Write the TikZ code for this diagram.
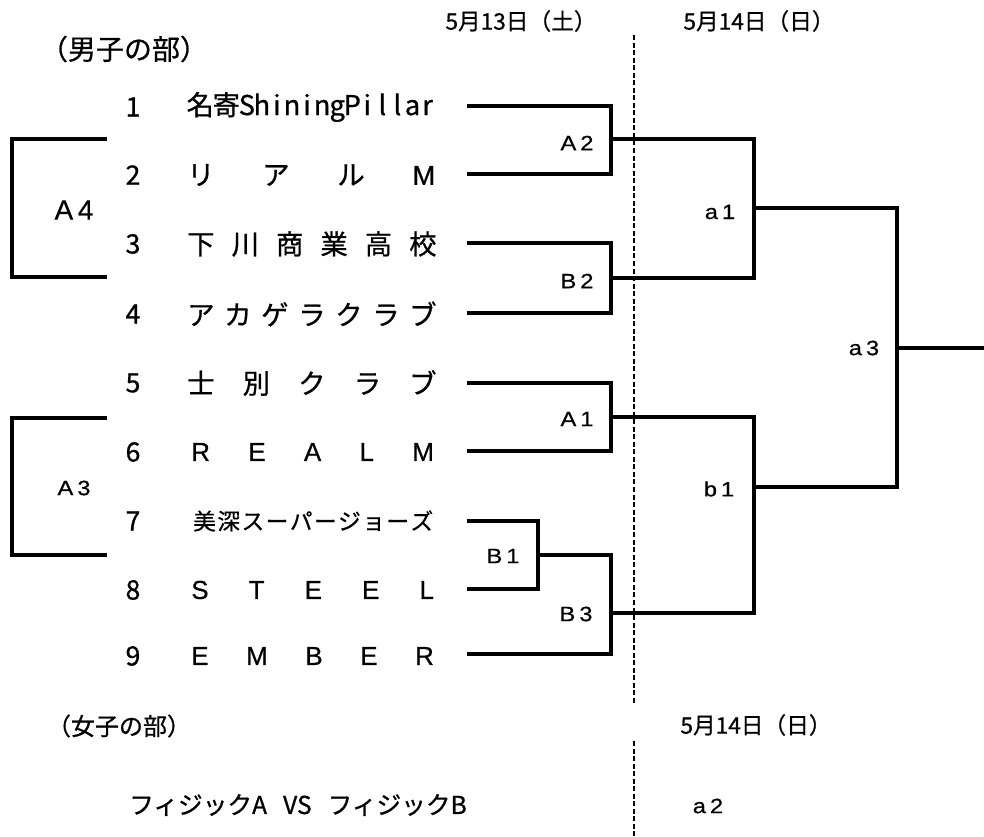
\documentclass[tikz,border=0pt]{standalone}
\usepackage{fontspec}
\usepackage{graphicx}
\newfontfamily\jp[FakeBold=0.7]{Noto Sans CJK JP}
\newfontfamily\lat[FakeBold=0.5]{Liberation Sans}
\newcommand\mc[1]{\makebox[11.3pt]{#1}}
\newcommand\kc[1]{\makebox[19.5pt]{#1}}
\newcommand\lab[1]{\scalebox{1.15}[1]{#1}}
\begin{document}
\begin{tikzpicture}[x=0.75pt,y={(0pt,-0.75pt)},
  ln/.style={line width=2.4pt, line join=miter},
  dsh/.style={line width=2pt, dash pattern=on 3.75pt off 1.9pt},
  head/.style={inner sep=0pt, font=\jp\fontsize{21}{23}\selectfont},
  datef/.style={inner sep=0pt, font=\jp\fontsize{17}{19}\selectfont},
  numf/.style={inner sep=0pt, font=\jp\fontsize{20}{22}\selectfont},
  team/.style={inner sep=0pt, anchor=west, font=\jp\fontsize{20.5}{22}\selectfont},
  lbl/.style={inner sep=0pt, font=\lat\fontsize{15.5}{17}\selectfont},
  biglbl/.style={inner sep=0pt, font=\lat\fontsize{21}{23}\selectfont}]
\fill[white] (0,0) rectangle (984,837);
\useasboundingbox (0,0) rectangle (984,837);

% headings and dates
\node[head] (men) at (124,49) {（男子の部）};
\node[datef] (d13) at (521,21) {5月13日（土）};
\node[datef] (d14) at (759,21) {5月14日（日）};

% numbers
\node[numf] (n1) at (133,107) {1};
\node[numf] (n2) at (133,175) {2};
\node[numf] (n3) at (133,244) {3};
\node[numf] (n4) at (133,314) {4};
\node[numf] (n5) at (133,383) {5};
\node[numf] (n6) at (133,452) {6};
\node[numf] (n7) at (133,521) {7};
\node[numf] (n8) at (133,590) {8};
\node[numf] (n9) at (133,656) {9};

% team names
\node[team] (tm1) at (187,107) {\kc{名}\kc{寄}\mc{S}\mc{h}\mc{i}\mc{n}\mc{i}\mc{n}\mc{g}\mc{P}\mc{i}\mc{l}\mc{l}\mc{a}\mc{r}};
\node[team] (tm2) at (187,175) {\makebox[186pt][s]{リ\hfill ア\hfill ル\hfill {\lat M}}};
\node[team] (tm3) at (187,244) {\makebox[187pt][s]{下\hfill 川\hfill 商\hfill 業\hfill 高\hfill 校}};
\node[team] (tm4) at (187,314) {\makebox[187pt][s]{ア\hfill カ\hfill ゲ\hfill ラ\hfill ク\hfill ラ\hfill ブ}};
\node[team] (tm5) at (187,383) {\makebox[187pt][s]{士\hfill 別\hfill ク\hfill ラ\hfill ブ}};
\node[team, font=\lat\fontsize{19.5}{22}\selectfont] (tm6) at (191,452) {\makebox[182pt][s]{R\hfill E\hfill A\hfill L\hfill M}};
\node[team, font=\jp\fontsize{17}{19}\selectfont] (tm7) at (193,521) {\makebox[180pt][s]{美\hfil 深\hfil ス\hfil ー\hfil パ\hfil ー\hfil ジ\hfil ョ\hfil ー\hfil ズ}};
\node[team, font=\lat\fontsize{19.5}{22}\selectfont] (tm8) at (191,590) {\makebox[182pt][s]{S\hfill T\hfill E\hfill E\hfill L}};
\node[team, font=\lat\fontsize{19.5}{22}\selectfont] (tm9) at (191,656) {\makebox[182pt][s]{E\hfill M\hfill B\hfill E\hfill R}};

% bracket coordinates
\coordinate (t1) at (467,106);
\coordinate (t2) at (467,174);
\coordinate (t3) at (467,243);
\coordinate (t4) at (467,313);
\coordinate (t5) at (467,383);
\coordinate (t6) at (467,451);
\coordinate (t7) at (467,521);
\coordinate (t8) at (467,589);
\coordinate (t9) at (467,654);
\coordinate (mA2) at (611,139);
\coordinate (mB2) at (611,278);
\coordinate (mA1) at (611,417);
\coordinate (mB1) at (538,555);
\coordinate (mB3) at (611,613);
\coordinate (ma1) at (754,208);
\coordinate (mb1) at (754,487);
\coordinate (ma3) at (897,348);
\coordinate (win) at (984,348);

\draw[ln] (t1) -| (mA2) |- (t2);
\draw[ln] (t3) -| (mB2) |- (t4);
\draw[ln] (t5) -| (mA1) |- (t6);
\draw[ln] (t7) -| (mB1) |- (t8);
\draw[ln] (mB1) -| (mB3) |- (t9);
\draw[ln] (mA2) -| (ma1) |- (mB2);
\draw[ln] (mA1) -| (mb1) |- (mB3);
\draw[ln] (ma1) -| (ma3) |- (mb1);
\draw[ln] (ma3) -- (win);

% left brackets
\coordinate (A4a) at (107,139);
\coordinate (A4m) at (12,208);
\coordinate (A4b) at (107,277);
\coordinate (A3a) at (107,418);
\coordinate (A3m) at (12,486);
\coordinate (A3b) at (107,555);
\draw[ln] (A4a) -| (A4m) |- (A4b);
\draw[ln] (A3a) -| (A3m) |- (A3b);

% match labels
\node[lbl] (lA2) at (577,143) {\lab{A\,2}};
\node[lbl] (lB2) at (577,281) {\lab{B\,2}};
\node[lbl] (lA1) at (577,419) {\lab{A\,1}};
\node[lbl] (lB3) at (576,614) {\lab{B\,3}};
\node[lbl] (lB1) at (503,556) {\lab{B\,1}};
\node[lbl] (la1) at (720,212) {\lab{a\,1}};
\node[lbl] (lb1) at (719,489) {\lab{b\,1}};
\node[lbl] (la3) at (864,348) {\lab{a\,3}};
\node[biglbl] (lA4) at (74,210) {A\,4};
\node[lbl] (lA3) at (74,488) {\lab{A\,3}};

% dashed day divider
\coordinate (dtop) at (634,35);
\coordinate (dm1) at (634,703);
\coordinate (dm2) at (634,741);
\coordinate (dbot) at (634,837);
\draw[dsh] (dtop) -- (dm1);
\draw[dsh] (dm2) -- (dbot);

% women's section
\node[head, font=\jp\fontsize{18}{20}\selectfont] (women) at (119,726) {（女子の部）};
\node[datef] (d14b) at (756,725) {5月14日（日）};
\node[inner sep=0pt, font=\jp\fontsize{18.5}{21}\selectfont] (wm) at (298,805) {フィジックA\hspace{12pt}VS\hspace{12pt}フィジックB};
\node[lbl] (la2) at (708,806) {\lab{a\,2}};
\end{tikzpicture}
\end{document}
